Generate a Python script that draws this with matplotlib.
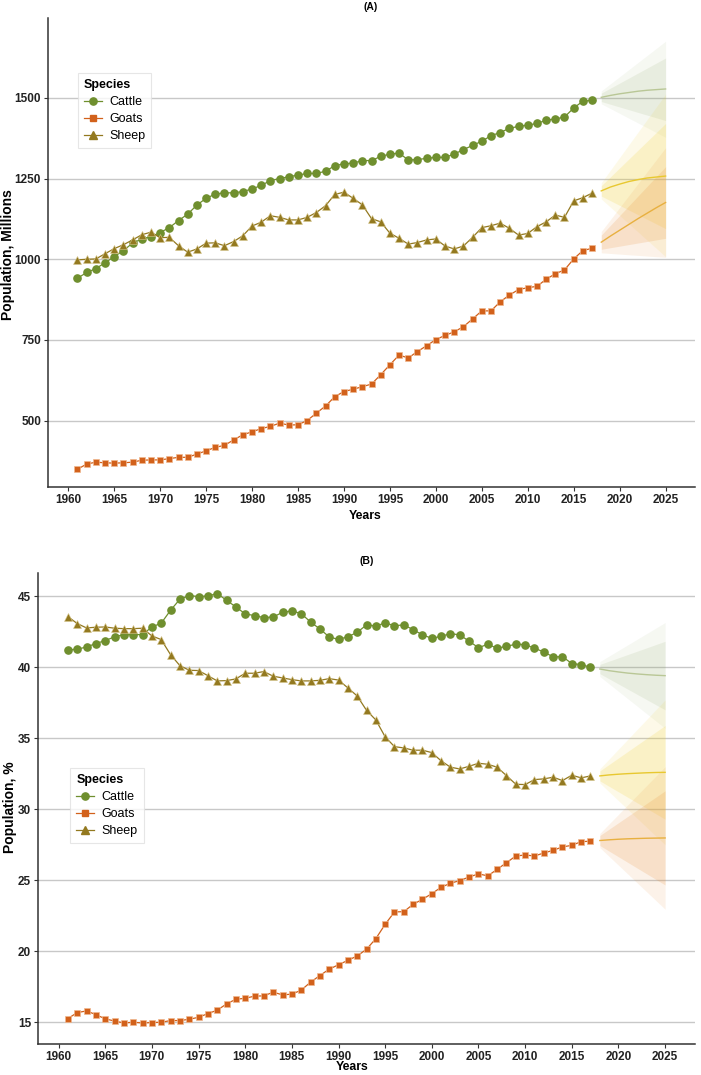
import numpy as np
import matplotlib
matplotlib.use("Agg")
import matplotlib.pyplot as plt
from matplotlib.lines import Line2D

plt.rcParams['font.family'] = ['Liberation Sans', 'DejaVu Sans']

###################################################
# observed data, 1961-2017
years = list(range(1961, 2018))

# panel A, population in millions
cattle_mil = [941, 959, 971, 989, 1008, 1027, 1050, 1063, 1070, 1083,
              1098, 1120, 1140, 1168, 1189, 1202, 1206, 1206, 1210, 1218,
              1229, 1244, 1250, 1256, 1261, 1266, 1266, 1273, 1290, 1296,
              1298, 1306, 1306, 1319, 1326, 1329, 1308, 1309, 1313, 1316,
              1316, 1326, 1340, 1353, 1366, 1383, 1393, 1406, 1412, 1416,
              1421, 1431, 1435, 1441, 1469, 1490, 1493]
goats_mil = [349, 365, 371, 369, 368, 369, 371, 377, 378, 378,
             382, 386, 386, 396, 406, 417, 423, 440, 456, 465,
             475, 482, 492, 486, 487, 500, 523, 545, 574, 590,
             597, 605, 613, 642, 673, 703, 694, 714, 732, 751,
             764, 775, 791, 815, 840, 840, 868, 889, 906, 912,
             916, 938, 955, 967, 1001, 1027, 1034]
sheep_mil = [998, 1000, 1001, 1017, 1033, 1045, 1060, 1076, 1084, 1067,
             1068, 1042, 1022, 1032, 1050, 1051, 1042, 1055, 1073, 1103,
             1115, 1135, 1130, 1122, 1122, 1130, 1145, 1166, 1201, 1208,
             1189, 1169, 1126, 1116, 1081, 1065, 1047, 1052, 1060, 1063,
             1041, 1032, 1041, 1068, 1098, 1104, 1112, 1096, 1075, 1080,
             1101, 1116, 1137, 1130, 1181, 1191, 1205]

# panel B, share in %
cattle_pct = [41.22, 41.27, 41.43, 41.67, 41.88, 42.14, 42.30, 42.30, 42.30, 42.84,
              43.10, 44.01, 44.79, 45.05, 44.98, 45.02, 45.19, 44.72, 44.25, 43.76,
              43.64, 43.50, 43.54, 43.87, 43.97, 43.78, 43.19, 42.70, 42.14, 41.96,
              42.15, 42.46, 42.98, 42.91, 43.12, 42.93, 42.98, 42.65, 42.28, 42.04,
              42.18, 42.37, 42.28, 41.83, 41.38, 41.62, 41.34, 41.48, 41.62, 41.60,
              41.34, 41.08, 40.73, 40.75, 40.26, 40.19, 40.00]
goats_pct = [15.26, 15.68, 15.80, 15.54, 15.24, 15.09, 14.95, 15.00, 14.95, 14.98,
             15.00, 15.12, 15.12, 15.21, 15.35, 15.61, 15.85, 16.29, 16.62, 16.69,
             16.84, 16.86, 17.12, 16.93, 16.98, 17.26, 17.82, 18.29, 18.74, 19.05,
             19.36, 19.67, 20.14, 20.89, 21.90, 22.77, 22.79, 23.31, 23.66, 24.06,
             24.51, 24.79, 24.98, 25.23, 25.45, 25.31, 25.77, 26.24, 26.71, 26.78,
             26.71, 26.92, 27.11, 27.35, 27.46, 27.72, 27.75]
sheep_pct = [43.57, 43.08, 42.77, 42.82, 42.84, 42.75, 42.72, 42.72, 42.75, 42.21,
             41.95, 40.89, 40.12, 39.79, 39.77, 39.41, 39.04, 39.06, 39.18, 39.58,
             39.58, 39.70, 39.37, 39.25, 39.13, 39.04, 39.04, 39.08, 39.20, 39.10,
             38.55, 37.98, 36.97, 36.29, 35.10, 34.41, 34.32, 34.16, 34.16, 33.99,
             33.41, 32.96, 32.84, 33.03, 33.24, 33.17, 32.96, 32.37, 31.76, 31.74,
             32.09, 32.14, 32.26, 32.02, 32.40, 32.21, 32.35]

# forecasts 2018-2025 (point forecast)
fc_years = list(range(2018, 2026))
cattle_fc_mil = [1502, 1508, 1513, 1517, 1521, 1524, 1526, 1528]
sheep_fc_mil = [1212, 1224, 1233, 1241, 1247, 1252, 1255, 1258]
goats_fc_mil = [1053, 1072, 1090, 1108, 1126, 1143, 1160, 1176]
cattle_fc_pct = [39.88, 39.76, 39.67, 39.59, 39.53, 39.48, 39.44, 39.41]
sheep_fc_pct = [32.35, 32.42, 32.47, 32.51, 32.54, 32.57, 32.59, 32.60]
goats_fc_pct = [27.80, 27.85, 27.89, 27.92, 27.94, 27.96, 27.97, 27.98]

# interval bounds at 2018 and 2025: lo80, hi80, lo95, hi95
band_years = [2018, 2025]
cattle_band_mil = ([1489, 1430], [1515, 1624], [1482, 1378], [1522, 1676])
sheep_band_mil = ([1196, 1095], [1228, 1421], [1187, 1008], [1237, 1512])
goats_band_mil = ([1031, 1065], [1075, 1287], [1020, 1006], [1086, 1346])
cattle_band_pct = ([39.55, 37.0], [40.2, 41.83], [39.35, 35.7], [40.4, 43.15])
sheep_band_pct = ([32.0, 29.3], [32.7, 35.9], [31.85, 27.5], [32.85, 37.7])
goats_band_pct = ([27.45, 24.67], [28.15, 31.3], [27.3, 22.96], [28.3, 33.0])

xticks = list(range(1960, 2030, 5))
yticks_mil = [500, 750, 1000, 1250, 1500]
yticks_pct = [15, 20, 25, 30, 35, 40, 45]

###################################################

col_cattle = '#6f8f2e'
col_goats = '#d2611b'
col_sheep = '#937920'
fan_cattle = '#8da665'
fan_sheep = '#f0d030'
fan_goats = '#e8903a'
line_cattle = '#b9c796'
line_sheep = '#e8c830'
line_goats = '#e8b040'

W, H = 701.0, 1075.0


def draw_panel(ax, cattle, goats, sheep, fcs, bands, ylim, yticks):
    ax.set_axisbelow(True)
    ax.grid(axis='y', color='#c8c8c8', linewidth=1.0)
    ax.grid(axis='x', visible=False)

    # forecast fans
    for band, fc, fcol, lcol, a in zip(bands, fcs,
                                       [fan_cattle, fan_sheep, fan_goats],
                                       [line_cattle, line_sheep, line_goats],
                                       [0.7, 1.0, 1.0]):
        lo80, hi80, lo95, hi95 = band
        ax.fill_between(band_years, lo95, hi95, color=fcol, alpha=0.11 * a, lw=0)
        ax.fill_between(band_years, lo80, hi80, color=fcol, alpha=0.18 * a, lw=0)
        ax.plot(fc_years, fc, color=lcol, lw=1.0)

    ax.plot(years, cattle, color=col_cattle, lw=0.9, marker='o', ms=5.2,
            mec=col_cattle, label='Cattle')
    ax.plot(years, goats, color=col_goats, lw=0.9, marker='s', ms=4.8,
            mec='#f0b890', mew=0.5, label='Goats')
    ax.plot(years, sheep, color=col_sheep, lw=0.9, marker='^', ms=5.8,
            mec='#d8c890', mew=0.4, label='Sheep')

    ax.set_xlim(1957.8, 2028.2)
    ax.set_ylim(*ylim)
    ax.set_xticks(xticks)
    ax.set_yticks(yticks)
    ax.tick_params(length=3, width=0.8, color='#333333', labelsize=8.5,
                   labelcolor='#222222', pad=2)
    for lab in ax.get_xticklabels() + ax.get_yticklabels():
        lab.set_fontweight('bold')
    for s in ['top', 'right']:
        ax.spines[s].set_visible(False)
    for s in ['left', 'bottom']:
        ax.spines[s].set_color('#333333')
        ax.spines[s].set_linewidth(1.1)


fig = plt.figure(figsize=(7.01, 10.75), dpi=100)

axA = fig.add_axes([48 / W, 1 - 487 / H, 647 / W, 469 / H])
draw_panel(axA, cattle_mil, goats_mil, sheep_mil,
           [cattle_fc_mil, sheep_fc_mil, goats_fc_mil],
           [cattle_band_mil, sheep_band_mil, goats_band_mil],
           (294, 1748), yticks_mil)

axB = fig.add_axes([38 / W, 1 - 1044 / H, 657 / W, 471.3 / H])
draw_panel(axB, cattle_pct, goats_pct, sheep_pct,
           [cattle_fc_pct, sheep_fc_pct, goats_fc_pct],
           [cattle_band_pct, sheep_band_pct, goats_band_pct],
           (13.47, 46.66), yticks_pct)

# titles and axis labels
fig.text(371 / W, 1 - 7 / H, '(A)', ha='center', va='center',
         fontsize=7.5, fontweight='bold')
fig.text(367 / W, 1 - 561 / H, '(B)', ha='center', va='center',
         fontsize=7.5, fontweight='bold')
fig.text(8 / W, 1 - 255 / H, 'Population, Millions', rotation=90,
         ha='center', va='center', fontsize=10, fontweight='bold')
fig.text(10 / W, 1 - 807 / H, 'Population, %', rotation=90,
         ha='center', va='center', fontsize=10, fontweight='bold')
fig.text(365 / W, 1 - 516 / H, 'Years', ha='center', va='center',
         fontsize=8.8, fontweight='bold')
fig.text(352 / W, 1 - 1067 / H, 'Years', ha='center', va='center',
         fontsize=8.8, fontweight='bold')

handles = [Line2D([], [], color=col_cattle, marker='o', ms=5.2, lw=0.9),
           Line2D([], [], color=col_goats, marker='s', ms=4.8, lw=0.9),
           Line2D([], [], color=col_sheep, marker='^', ms=5.8, lw=0.9)]
for ax, anchor in [(axA, (0.046, 0.883)), (axB, (0.049, 0.586))]:
    leg = ax.legend(handles, ['Cattle', 'Goats', 'Sheep'], title='Species',
                    loc='upper left', bbox_to_anchor=anchor, fontsize=9,
                    title_fontproperties={'weight': 'bold', 'size': 9},
                    alignment='left', frameon=True, fancybox=False,
                    edgecolor='#e0e0e0', handlelength=1.4, handletextpad=0.6,
                    labelspacing=0.4, borderpad=0.5, borderaxespad=0)
    leg.get_frame().set_linewidth(0.8)

fig.savefig('out.png', dpi=100)
